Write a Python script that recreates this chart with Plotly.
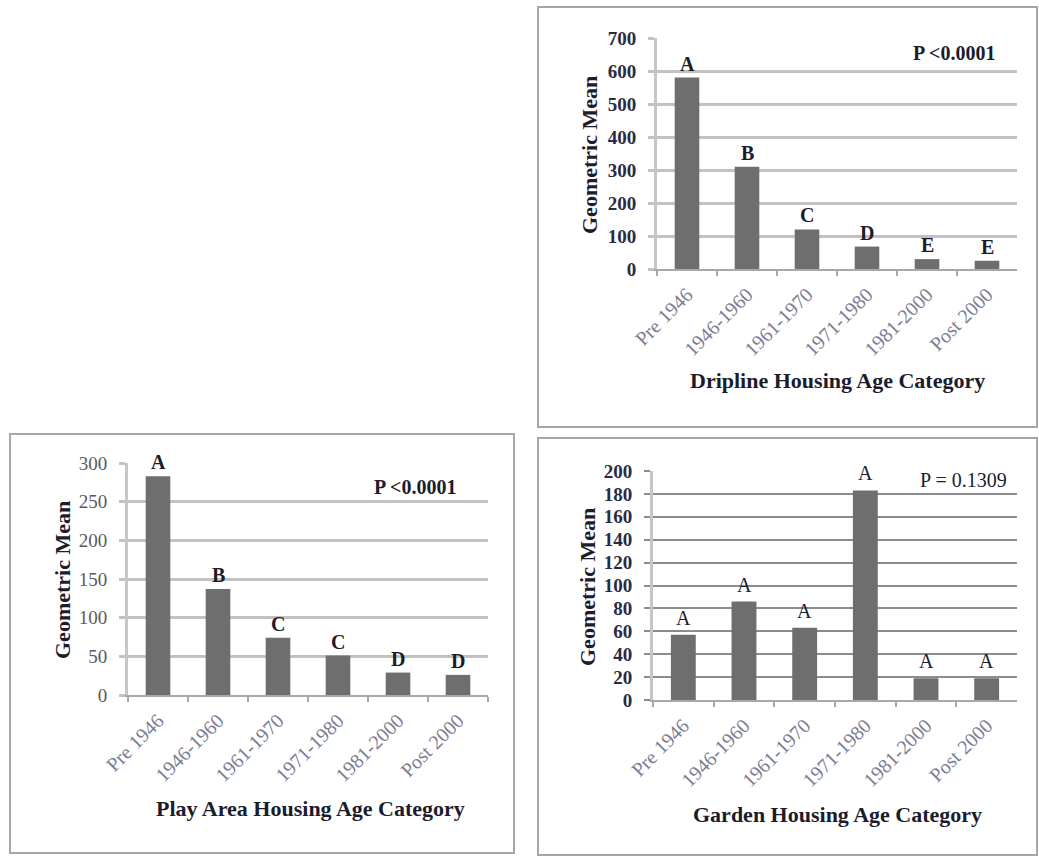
import plotly.graph_objects as go

W, H = 1039, 856

# ---- data ----
categories = ["Pre 1946", "1946-1960", "1961-1970", "1971-1980", "1981-2000", "Post 2000"]

dripline_values = [580, 310, 120, 68, 30, 25]
dripline_letters = ["A", "B", "C", "D", "E", "E"]

play_values = [283, 137, 74, 51, 29, 26]
play_letters = ["A", "B", "C", "C", "D", "D"]

garden_values = [57, 86, 63, 183, 19, 19]
garden_letters = ["A", "A", "A", "A", "A", "A"]

panel_titles = ["Dripline Housing Age Category",
                "Play Area Housing Age Category",
                "Garden Housing Age Category"]
p_texts = ["P <0.0001", "P <0.0001", "P = 0.1309"]

SERIF = "Liberation Serif"
BAR = "#6e6e6e"
DARK = "#1c1c2c"


def px_x(x):
    return x / W


def px_y(y):
    return 1 - y / H


# panel geometry in pixels: plot box (left, right, top, bottom), frame box
panels = [
    dict(vals=dripline_values, letters=dripline_letters, ymax=700, dtick=100,
         plot=(657, 1017, 38, 269), frame=(538, 1037, 7, 427),
         ytitle=(589, 155), xtitle=(837, 381), ptext=(954, 53), pbold=True,
         grid="#c2c2c2", gridw=3, tickbold=True, tickcol="#2a2a44",
         letterbold=True, lshift=1),
    dict(vals=play_values, letters=play_letters, ymax=300, dtick=50,
         plot=(128, 488, 463, 695), frame=(10, 514, 434, 853),
         ytitle=(62, 580), xtitle=(310, 808), ptext=(415, 487), pbold=True,
         grid="#c2c2c2", gridw=3, tickbold=False, tickcol="#5a5a5a",
         letterbold=True, lshift=1),
    dict(vals=garden_values, letters=garden_letters, ymax=200, dtick=20,
         plot=(653, 1017, 471, 700), frame=(538, 1037, 438, 855),
         ytitle=(587, 587), xtitle=(837, 814), ptext=(963, 480), pbold=False,
         grid="#8c8c8c", gridw=1.5, tickbold=True, tickcol="#2a2a44",
         letterbold=False, lshift=4),
]

fig = go.Figure()
annotations = []
shapes = []

for i, p in enumerate(panels, start=1):
    xa = "x" if i == 1 else f"x{i}"
    ya = "y" if i == 1 else f"y{i}"
    xkey = "xaxis" if i == 1 else f"xaxis{i}"
    ykey = "yaxis" if i == 1 else f"yaxis{i}"
    l, r, t, b = p["plot"]

    fig.add_trace(go.Bar(x=categories, y=p["vals"], xaxis=xa, yaxis=ya,
                         marker=dict(color=BAR, line=dict(width=0)),
                         width=0.41, showlegend=False))

    fig.update_layout(**{
        xkey: dict(domain=[px_x(l), px_x(r)], anchor=ya, type="category",
                   automargin=False,
                   showline=True, linecolor="#a8a8a8", linewidth=2,
                   ticks="outside", tickson="boundaries", ticklen=5,
                   tickcolor="#a8a8a8", tickwidth=2, tickangle=-45,
                   ticklabelstandoff=4,
                   tickfont=dict(family=SERIF, size=20, color="#7c7c92"),
                   showgrid=False, fixedrange=True),
        ykey: dict(domain=[px_y(b), px_y(t)], anchor=xa,
                   automargin=False,
                   range=[0, p["ymax"]], dtick=p["dtick"], tick0=0,
                   showline=True, linecolor="#c6c6c6", linewidth=3,
                   ticks="outside", ticklen=6, tickcolor=p["grid"],
                   tickwidth=p["gridw"], ticklabelstandoff=8,
                   showgrid=True, gridcolor=p["grid"], gridwidth=p["gridw"],
                   zeroline=False,
                   tickfont=dict(family=SERIF, size=19, color=p["tickcol"],
                                 weight="bold" if p["tickbold"] else "normal"),
                   fixedrange=True),
    })

    # significance letters above each bar
    for cat, v, letter in zip(categories, p["vals"], p["letters"]):
        annotations.append(dict(
            x=cat, y=v, xref=xa, yref=ya, text=letter, showarrow=False,
            yanchor="bottom", yshift=p["lshift"],
            font=dict(family=SERIF, size=20, color=DARK,
                      weight="bold" if p["letterbold"] else "normal")))

    # axis titles
    yx, yy = p["ytitle"]
    annotations.append(dict(
        x=px_x(yx), y=px_y(yy), xref="paper", yref="paper",
        text="Geometric Mean", textangle=-90, showarrow=False,
        xanchor="center", yanchor="middle",
        font=dict(family=SERIF, size=22, color=DARK, weight="bold")))
    tx, ty = p["xtitle"]
    annotations.append(dict(
        x=px_x(tx), y=px_y(ty), xref="paper", yref="paper",
        text=panel_titles[i - 1], showarrow=False,
        xanchor="center", yanchor="middle",
        font=dict(family=SERIF, size=22, color=DARK, weight="bold")))

    # p-value
    ptx, pty = p["ptext"]
    annotations.append(dict(
        x=px_x(ptx), y=px_y(pty), xref="paper", yref="paper",
        text=p_texts[i - 1], showarrow=False,
        xanchor="center", yanchor="middle",
        font=dict(family=SERIF, size=20, color=DARK,
                  weight="bold" if p["pbold"] else "normal")))

    # frame around each chart
    fl, fr, ft, fb = p["frame"]
    shapes.append(dict(type="rect", xref="paper", yref="paper",
                       x0=px_x(fl), x1=px_x(fr), y0=px_y(fb), y1=px_y(ft),
                       line=dict(color="#a6a6a6", width=2), layer="below"))

fig.update_layout(
    width=W, height=H, margin=dict(l=0, r=0, t=0, b=0, autoexpand=False),
    paper_bgcolor="white", plot_bgcolor="white",
    annotations=annotations, shapes=shapes, bargap=0.59,
)

fig.write_html("out.html", config={"displayModeBar": False})
